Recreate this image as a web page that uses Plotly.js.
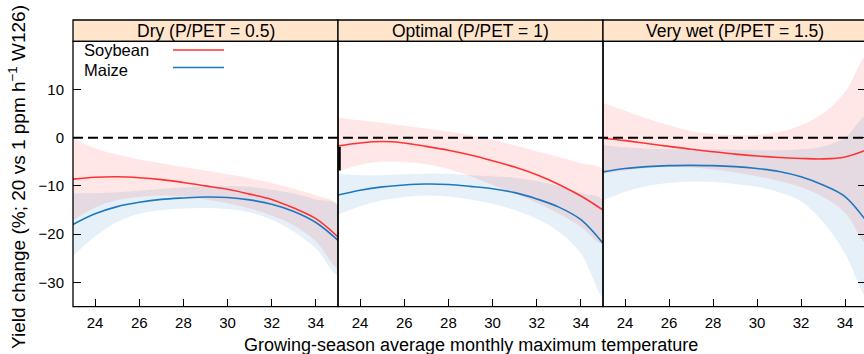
<!DOCTYPE html>
<html>
<head>
<meta charset="utf-8">
<script src="https://cdn.plot.ly/plotly-3.0.1.min.js"></script>
<style>html,body{margin:0;padding:0;background:#fff;overflow:hidden}#chart{width:864px;height:354px}</style>
</head>
<body>
<div id="chart"></div>
<script>
// ---- data ----
const temp = [23, 24, 25, 26, 27, 28, 29, 30, 31, 32, 33, 34, 35];
const panelTitles = ["Dry (P/PET = 0.5)", "Optimal (P/PET = 1)", "Very wet (P/PET = 1.5)"];
const seriesNames = ["Soybean", "Maize"];
const xTicks = [24, 26, 28, 30, 32, 34];
const yTicks = [-30, -20, -10, 0, 10];

// Dry
const drySoy    = [-8.6, -8.2, -8.1, -8.3, -8.7, -9.3, -10.0, -10.7, -11.7, -12.8, -14.6, -16.8, -20.6];
const drySoyHi  = [0.0, -2.2, -3.5, -4.5, -5.3, -6.1, -6.8, -7.6, -8.4, -9.4, -10.6, -12.0, -14.0];
const drySoyLo  = [-17.2, -14.5, -13.0, -12.3, -12.0, -12.2, -12.8, -13.6, -14.7, -16.2, -18.2, -21.5, -27.0];
const dryMaize   = [-18.0, -15.8, -14.3, -13.4, -12.8, -12.5, -12.3, -12.4, -12.9, -13.8, -15.3, -17.6, -21.3];
const dryMaizeHi = [-11.5, -11.5, -11.3, -11.0, -10.6, -10.3, -10.1, -10.0, -10.2, -10.8, -11.6, -12.8, -14.0];
const dryMaizeLo = [-24.5, -20.5, -17.5, -15.8, -15.0, -14.7, -14.6, -14.8, -15.5, -17.0, -19.5, -23.0, -28.5];
// Optimal
const optSoy    = [-1.7, -1.1, -0.8, -1.1, -1.8, -2.6, -3.6, -4.8, -6.1, -7.7, -9.7, -12.1, -15.0];
const optSoyHi  = [4.2, 3.6, 3.1, 2.5, 1.9, 1.3, 0.5, -0.5, -1.6, -2.8, -4.0, -5.3, -6.7];
const optSoyLo  = [-7.0, -5.6, -5.0, -5.0, -5.5, -6.5, -8.0, -9.8, -11.5, -13.5, -15.8, -18.5, -22.0];
const optMaize   = [-11.9, -10.9, -10.2, -9.8, -9.6, -9.7, -10.1, -10.6, -11.4, -12.7, -14.4, -17.0, -21.9];
const optMaizeHi = [-7.5, -7.8, -7.8, -7.6, -7.5, -7.5, -7.8, -8.0, -8.3, -9.0, -10.0, -11.5, -13.0];
const optMaizeLo = [-16.0, -14.2, -13.0, -12.3, -12.0, -12.2, -12.8, -13.7, -15.0, -16.8, -19.5, -24.0, -33.0];
// Very wet
const wetSoy    = [-0.1, -0.6, -1.2, -1.8, -2.4, -2.9, -3.4, -3.8, -4.1, -4.3, -4.4, -4.0, -2.5];
const wetSoyHi  = [7.2, 5.6, 4.0, 2.6, 1.4, 0.8, 0.5, 0.6, 1.2, 2.6, 5.0, 9.5, 17.0];
const wetSoyLo  = [-7.5, -6.8, -6.3, -6.1, -6.2, -6.6, -7.2, -8.0, -9.0, -10.3, -12.3, -15.5, -22.0];
const wetMaize   = [-7.1, -6.4, -6.0, -5.8, -5.75, -5.8, -6.0, -6.4, -7.0, -8.1, -9.8, -12.2, -17.5];
const wetMaizeHi = [-1.5, -2.0, -2.3, -2.4, -2.4, -2.4, -2.5, -2.6, -2.6, -2.4, -1.8, 0.0, 4.5];
const wetMaizeLo = [-13.0, -11.2, -10.0, -9.4, -9.1, -9.2, -9.6, -10.2, -11.3, -13.2, -17.5, -24.0, -33.0];

// ---- styling ----
const W = 864, H = 354;
const FONT = "Liberation Sans, Arial, sans-serif";
const soyColor = "#FF3333", maizeColor = "#1F78BF";
const soyFill = "rgba(255,60,60,0.12)", maizeFill = "rgba(31,120,191,0.11)";
const px = v => v / W, py = v => 1 - v / H;
const panelLeft = [73, 338, 603], panelRight = [338, 603, 867];
const plotTop = 41.3, plotBottom = 306.7, stripTop = 20;
const yRange = [-35.06, 20.0];

const panels = [
  {soy: drySoy, soyHi: drySoyHi, soyLo: drySoyLo, mz: dryMaize, mzHi: dryMaizeHi, mzLo: dryMaizeLo},
  {soy: optSoy, soyHi: optSoyHi, soyLo: optSoyLo, mz: optMaize, mzHi: optMaizeHi, mzLo: optMaizeLo},
  {soy: wetSoy, soyHi: wetSoyHi, soyLo: wetSoyLo, mz: wetMaize, mzHi: wetMaizeHi, mzLo: wetMaizeLo}
];

const traces = [];
const band = (hi, lo, color, xa) => ({
  type: "scatter", mode: "lines", xaxis: xa, yaxis: "y",
  x: temp.concat(temp.slice().reverse()),
  y: hi.concat(lo.slice().reverse()),
  fill: "toself", fillcolor: color, line: {width: 0, shape: "spline", smoothing: 1},
  hoverinfo: "skip", showlegend: false
});
const line = (ys, color, name, xa) => ({
  type: "scatter", mode: "lines", xaxis: xa, yaxis: "y", x: temp, y: ys, name: name,
  line: {color: color, width: 1.6, shape: "spline", smoothing: 1}, showlegend: false
});
panels.forEach((p, i) => {
  const xa = i === 0 ? "x" : "x" + (i + 1);
  traces.push(band(p.soyHi, p.soyLo, soyFill, xa));
  traces.push(band(p.mzHi, p.mzLo, maizeFill, xa));
  traces.push(line(p.mz, maizeColor, seriesNames[1], xa));
  traces.push(line(p.soy, soyColor, seriesNames[0], xa));
});
// carrier for the right-hand tick axis
traces.push({type: "scatter", mode: "markers", x: [null], y: [null], xaxis: "x3", yaxis: "y2", hoverinfo: "skip", showlegend: false});

const layout = {
  width: W, height: H, margin: {l: 0, r: 0, t: 0, b: 0},
  paper_bgcolor: "#fff", plot_bgcolor: "rgba(0,0,0,0)",
  font: {family: FONT, size: 15, color: "#000"},
  showlegend: false,
  yaxis: {domain: [py(plotBottom), py(plotTop)], range: yRange, anchor: "x",
    tickvals: yTicks, ticks: "inside", ticklen: 8, tickwidth: 1, tickcolor: "#000",
    ticklabelstandoff: 8, showgrid: false, zeroline: false, showline: false,
    tickfont: {family: FONT, size: 15, color: "#000"}},
  yaxis2: {overlaying: "y", side: "right", anchor: "free", position: 1, range: yRange,
    tickvals: yTicks, ticks: "inside", ticklen: 6, tickwidth: 1, tickcolor: "#000",
    showticklabels: false, showgrid: false, zeroline: false, showline: false},
  shapes: [], annotations: []
};
for (let i = 0; i < 3; i++) {
  const key = i === 0 ? "xaxis" : "xaxis" + (i + 1);
  const right = Math.min(panelRight[i], W);
  const xmax = 23 + (right - panelLeft[i]) / ((panelRight[i] - panelLeft[i]) / 12);
  layout[key] = {domain: [px(panelLeft[i]), px(right)], range: [23, xmax], anchor: "y",
    tickvals: xTicks, ticks: "inside", ticklen: 8, tickwidth: 1, tickcolor: "#000",
    ticklabelstandoff: 5, showgrid: false, zeroline: false, showline: false,
    tickfont: {family: FONT, size: 15, color: "#000"}};
  // strip
  layout.shapes.push({type: "rect", xref: "paper", yref: "paper",
    x0: px(panelLeft[i]), x1: px(panelRight[i]), y0: py(plotTop), y1: py(stripTop),
    fillcolor: "#FFE5CC", line: {color: "#000", width: 1.3}, layer: "below"});
  // panel frame
  layout.shapes.push({type: "rect", xref: "paper", yref: "paper",
    x0: px(panelLeft[i]), x1: px(panelRight[i]), y0: py(plotBottom), y1: py(plotTop),
    line: {color: "#000", width: 1.3}});
  layout.annotations.push({xref: "paper", yref: "paper", x: px((panelLeft[i] + panelRight[i]) / 2),
    y: py((stripTop + plotTop) / 2), text: panelTitles[i], showarrow: false,
    font: {family: FONT, size: 17.5, color: "#000"}, xanchor: "center", yanchor: "middle"});
}
// zero reference line
layout.shapes.push({type: "line", xref: "paper", yref: "y", x0: px(73), x1: 1, y0: 0, y1: 0,
  line: {color: "#000", width: 2, dash: "10px,5px"}});
// small black mark on left edge of middle panel
layout.shapes.push({type: "line", xref: "paper", yref: "y", x0: px(339.5), x1: px(339.5), y0: -1.9, y1: -6.8,
  line: {color: "#000", width: 2.5}});
// legend (inside panel 1): text boxes stacked edge to edge
const legSplit = 59.5;
layout.annotations.push({xref: "paper", yref: "paper", x: px(83), y: py(legSplit), text: seriesNames[0],
  showarrow: false, xanchor: "left", yanchor: "bottom", borderpad: 0,
  font: {family: FONT, size: 16.5, color: "#000"}});
layout.annotations.push({xref: "paper", yref: "paper", x: px(83), y: py(legSplit), text: seriesNames[1],
  showarrow: false, xanchor: "left", yanchor: "top", borderpad: 0,
  font: {family: FONT, size: 16.5, color: "#000"}});
const legLineY = [50, 67.5];
[soyColor, maizeColor].forEach((c, k) => {
  layout.shapes.push({type: "line", xref: "paper", yref: "paper", x0: px(173), x1: px(224),
    y0: py(legLineY[k]), y1: py(legLineY[k]), line: {color: c, width: 1.6}});
});
// axis titles
layout.annotations.push({xref: "paper", yref: "paper", x: px(471), y: py(345),
  text: "Growing-season average monthly maximum temperature", showarrow: false,
  xanchor: "center", yanchor: "middle", font: {family: FONT, size: 18, color: "#000"}});
layout.annotations.push({xref: "paper", yref: "paper", x: px(17), y: py(177),
  text: "Yield change (%; 20 vs 1 ppm h<sup>−1</sup> W126)", showarrow: false, textangle: -90,
  xanchor: "center", yanchor: "middle", font: {family: FONT, size: 19, color: "#000"}});

Plotly.newPlot("chart", traces, layout, {displayModeBar: false, staticPlot: true});
</script>
</body>
</html>
